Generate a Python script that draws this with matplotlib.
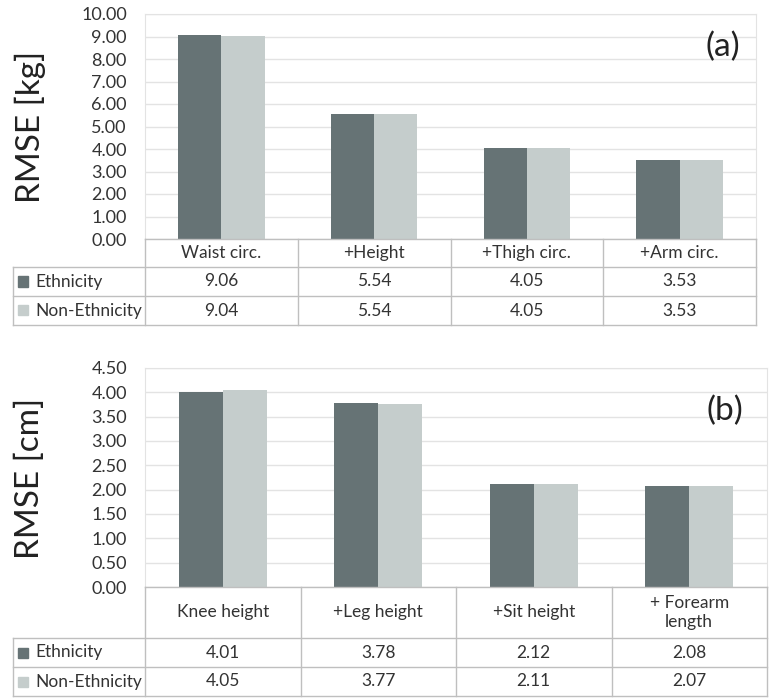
import numpy as np
import matplotlib
matplotlib.use("Agg")
import matplotlib.pyplot as plt
from matplotlib.patches import Rectangle
from matplotlib.lines import Line2D

plt.rcParams["font.family"] = ["Lato", "DejaVu Sans"]

W, H = 776, 698

series = ["Ethnicity", "Non-Ethnicity"]
colors = ["#667375", "#C5CDCC"]

cats_a = ["Waist circ.", "+Height", "+Thigh circ.", "+Arm circ."]
eth_a = [9.06, 5.54, 4.05, 3.53]
non_a = [9.04, 5.54, 4.05, 3.53]
yticks_a = np.arange(0, 10.01, 1.0)

cats_b = ["Knee height", "+Leg height", "+Sit height", "+ Forearm\nlength"]
eth_b = [4.01, 3.78, 2.12, 2.08]
non_b = [4.05, 3.77, 2.11, 2.07]
yticks_b = np.arange(0, 4.51, 0.5)

GRID = "#E3E3E3"
BORDER = "#BFBFBF"
TXT = "#333333"


def fx(x):
    return x / W


def fy(y):
    return 1 - y / H


def panel(fig, left, right, top, bottom, hdr_bot, row1, row2, cats, vals, yticks,
          ylabel, tag, ylab_pos, tag_pos):
    ax = fig.add_axes([fx(left), fy(bottom), fx(right) - fx(left), fy(top) - fy(bottom)])
    n = len(cats)
    x = np.arange(n)
    bw = 0.283
    ax.bar(x - bw / 2, vals[0], bw, color=colors[0], zorder=3)
    ax.bar(x + bw / 2, vals[1], bw, color=colors[1], zorder=3)
    ax.set_xlim(-0.5, n - 0.5)
    ax.set_ylim(yticks[0], yticks[-1])
    ax.set_yticks(yticks)
    ax.set_yticklabels([f"{t:.2f}" for t in yticks], fontsize=13, color=TXT)
    ax.tick_params(axis="y", length=0, pad=13)
    ax.set_xticks([])
    ax.grid(axis="y", color=GRID, lw=1, zorder=0)
    for s in ["left", "top", "right"]:
        ax.spines[s].set_color(GRID)
    ax.spines["bottom"].set_visible(False)

    fig.text(fx(ylab_pos[0]), fy(ylab_pos[1]), ylabel, rotation=90, fontsize=24,
             ha="center", va="center", color="#222222")
    fig.text(fx(tag_pos[0]), fy(tag_pos[1]), tag, fontsize=24, ha="center",
             va="center", color="#222222")

    # data table under the bars
    colw = (right - left) / n
    edges = [left + i * colw for i in range(n + 1)]
    tl = 13

    def hline(y, x0, x1):
        fig.add_artist(Line2D([fx(x0), fx(x1)], [fy(y), fy(y)], color=BORDER, lw=1))

    def vline(x, y0, y1):
        fig.add_artist(Line2D([fx(x), fx(x)], [fy(y0), fy(y1)], color=BORDER, lw=1))

    hline(bottom, left, right)
    for y in (hdr_bot, row1, row2):
        hline(y, tl, right)
    vline(tl, hdr_bot, row2)
    for e in edges:
        vline(e, bottom, row2)

    for i, c in enumerate(cats):
        cx = (edges[i] + edges[i + 1]) / 2
        fig.text(fx(cx), fy((bottom + hdr_bot) / 2), c, fontsize=12.5, ha="center",
                 va="center", color=TXT, linespacing=1.3)
    rows = [(hdr_bot, row1), (row1, row2)]
    for r, (y0, y1) in enumerate(rows):
        cy = (y0 + y1) / 2
        fig.add_artist(Rectangle((fx(18), fy(cy + 5)), fx(10), fy(cy - 5) - fy(cy + 5),
                                 color=colors[r], transform=fig.transFigure))
        fig.text(fx(35), fy(cy), series[r], fontsize=12.5, ha="left", va="center", color=TXT)
        for i in range(n):
            cx = (edges[i] + edges[i + 1]) / 2
            fig.text(fx(cx), fy(cy), f"{vals[r][i]:.2f}", fontsize=12.5, ha="center",
                     va="center", color=TXT)
    return ax


fig = plt.figure(figsize=(W / 100, H / 100), dpi=100)

panel(fig, 145, 756, 14, 239, 267, 296, 325, cats_a, [eth_a, non_a], yticks_a,
      "RMSE [kg]", "(a)", (30, 127), (723, 47))
panel(fig, 145, 767, 368, 587, 638, 667, 696, cats_b, [eth_b, non_b], yticks_b,
      "RMSE [cm]", "(b)", (30, 478), (725, 411))

fig.savefig("out.png", dpi=100)
